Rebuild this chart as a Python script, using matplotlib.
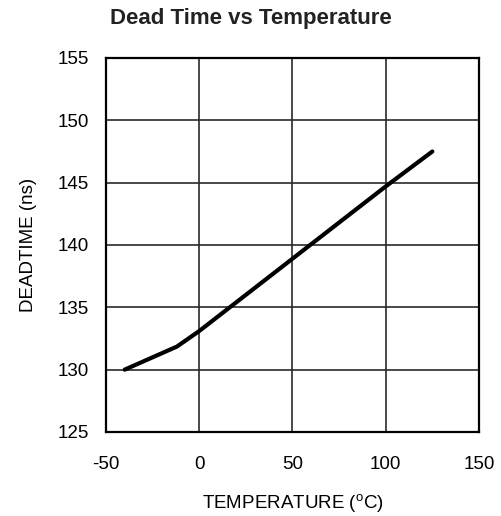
import numpy as np
import matplotlib
matplotlib.use('Agg')
import matplotlib.pyplot as plt

plt.rcParams['font.family'] = ['Liberation Sans', 'DejaVu Sans']
plt.rcParams['axes.unicode_minus'] = False
plt.rcParams['mathtext.fontset'] = 'custom'
plt.rcParams['mathtext.rm'] = 'Liberation Sans'

# Data
temp = [-40, -12, 0, 50, 100, 125]
deadtime = [130.0, 131.85, 133.1, 138.9, 144.7, 147.5]

x_ticks = [-50, 0, 50, 100, 150]
y_ticks = [125, 130, 135, 140, 145, 150, 155]

fig = plt.figure(figsize=(5.01, 5.16), dpi=100)
ax = fig.add_axes([0.2116, 0.1628, 0.7444, 0.7248])

ax.plot(temp, deadtime, color='black', linewidth=3.0, solid_capstyle='round')

ax.set_xlim(-50, 150)
ax.set_ylim(125, 155)
ax.set_xticks(x_ticks)
ax.set_yticks(y_ticks)
ax.tick_params(length=0, labelsize=13.5)
ax.tick_params(axis='x', pad=17)
ax.tick_params(axis='y', pad=12)
ax.grid(True, color='#2a2a2a', linewidth=1.2)
ax.set_axisbelow(True)
for s in ax.spines.values():
    s.set_linewidth(1.6)
    s.set_color('black')

ax.set_xlabel(r'TEMPERATURE ($\mathrm{^{o}}$C)', fontsize=13.5, labelpad=14)
ax.set_ylabel('DEADTIME (ns)', fontsize=13.5, labelpad=15)
fig.text(0.5, 0.965, 'Dead Time vs Temperature', fontsize=16, fontweight='bold',
         ha='center', va='center', color='#222222')

fig.savefig('out.png', dpi=100)
